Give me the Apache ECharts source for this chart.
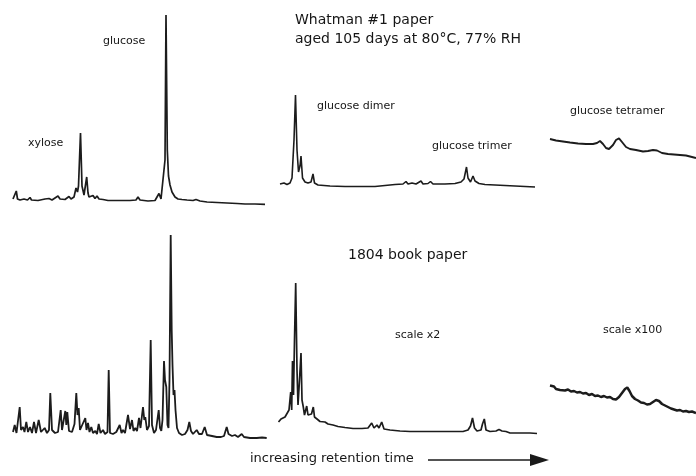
<!DOCTYPE html>
<html>
<head>
<meta charset="utf-8">
<script src="https://cdn.jsdelivr.net/npm/echarts@6/dist/echarts.min.js"></script>
<style>html,body{margin:0;padding:0;background:#fff}#c{width:696px;height:476px}</style>
</head>
<body>
<div id="c"></div>
<script>
// Panel 1: Whatman #1, early region (xylose, glucose)
var p1Time = [0.0,0.2,0.33,0.45,0.7,1.1,1.3,1.45,1.7,1.85,2.5,3.2,3.4,3.6,3.9,4.5,4.7,4.9,5.2,5.6,5.8,6.1,6.3,6.45,6.55,6.75,6.9,7.1,7.25,7.37,7.5,7.6,7.8,8.0,8.2,8.4,8.6,8.77,9.0,9.5,10.7,11.7,12.3,12.5,12.7,13.5,14.2,14.4,14.6,14.8,15.0,15.2,15.3,15.43,15.55,15.7,15.9,16.2,16.5,16.9,17.4,18.0,18.3,18.7,19.4,20.4,21.4,22.4,23.2,24.2,25.2];
var p1Signal = [6,7,14,6,5,6,8,5,7.5,5,4.5,6,5,6.5,5,9,6,7.5,5.5,8.5,6,8,17,13,19,72,19,10,11,28,12,8,7,9.5,6.5,9,6,7.5,5.5,4.5,4.5,4.5,5,8,5,4,4.5,8,11.5,6,6,45,190,55,29,20,13,8,6,5.5,5,4.5,5.5,4,3,2.5,2,1.5,1,1,0.7];
// Panel 2: Whatman #1, dimer / trimer region
var p2Time = [27.0,27.4,27.7,28.0,28.2,28.4,28.55,28.7,28.85,29.0,29.1,29.25,29.5,29.8,30.1,30.3,30.45,30.8,32.0,33.5,35.0,36.5,37.5,38.5,39.3,39.6,39.8,40.2,40.6,41.1,41.3,41.8,42.05,42.3,43.5,44.5,45.1,45.4,45.65,45.8,46.05,46.3,46.5,46.7,46.9,47.5,48.5,49.5,50.5,51.5,52.5];
var p2Signal = [11,12,10.5,12,17,55,100,45,23,29,39,17,13,12,13,21,12,10,9,8.5,8.5,8.5,9.5,10.5,11,13.5,11,12,11,14,11,11.5,13.5,11,11,11.5,13,16,28,17,13,19,14,16,11.5,10.5,10,9.5,9,8.5,8];
// Panel 3: Whatman #1, tetramer region
var p3Time = [55.2,55.8,56.5,57.2,58.0,58.8,59.5,59.9,60.2,60.5,60.8,61.1,61.5,61.8,62.1,62.4,62.8,63.2,63.8,64.5,65.0,65.5,65.9,66.4,67.0,67.6,68.2,68.8,69.2,69.8];
var p3Signal = [31,29.5,28.5,27.5,26.5,26,26,27,29,26,22,21,25,30,31.7,28,23,21,20,18.5,19,20,19.5,17,16,15.5,15,14.5,13.5,12];
// Panel 4: 1804 book paper, early region
var p4Time = [0.0,0.17,0.35,0.55,0.67,0.8,1.0,1.15,1.33,1.5,1.7,1.9,2.1,2.3,2.57,2.8,3.17,3.4,3.6,3.73,3.9,4.2,4.5,4.77,4.9,5.05,5.23,5.33,5.43,5.6,5.9,6.15,6.33,6.45,6.57,6.7,6.9,7.23,7.35,7.5,7.65,7.83,8.0,8.23,8.4,8.57,8.75,9.0,9.2,9.45,9.57,9.7,10.0,10.33,10.5,10.67,10.85,11.0,11.2,11.5,11.7,11.9,12.05,12.23,12.4,12.6,12.75,13.0,13.13,13.23,13.4,13.6,13.77,13.9,14.1,14.3,14.57,14.7,14.83,14.95,15.1,15.2,15.33,15.45,15.55,15.65,15.77,15.87,15.95,16.05,16.15,16.25,16.4,16.6,16.9,17.2,17.45,17.63,17.8,18.0,18.37,18.6,18.9,19.17,19.4,19.9,20.37,20.8,21.1,21.37,21.55,21.9,22.2,22.5,22.87,23.1,23.7,24.37,24.9,25.37];
var p4Signal = [13,20,12,14,38,15,18,13,23,13,18,12,23,12,25,13,17,12,15,52,15,12,13,35,15,17,34,20,33,14,13,21,52,30,37,15,13,27,15,22,13,18,12,14,11,21,12,15,11,13,75,12,11,13,11,20,12,15,12,30,16,25,14,17,14,27,17,38,25,28,15,19,105,20,12,15,35,17,14,25,84,65,58,20,17,65,210,115,80,50,55,35,17,12,10,11,15,23,14,11,15,11,11,18,10,9,8,8,9,18,11,9,10,8,11,8,7,7,7.5,7];
// Panel 5: 1804 book paper, dimer / trimer region (scale x2)
var p5Time = [27.05,27.3,27.5,27.7,27.9,28.1,28.27,28.37,28.45,28.55,28.65,28.77,28.9,29.0,29.15,29.3,29.4,29.53,29.65,29.87,30.0,30.2,30.35,30.53,30.65,30.9,31.2,31.7,32.0,32.5,33.0,33.7,34.5,35.4,36.0,36.37,36.6,36.9,37.1,37.37,37.6,38.2,39.2,40.2,41.2,42.7,44.2,45.5,46.0,46.25,46.45,46.65,46.9,47.3,47.45,47.63,47.8,48.2,48.8,49.1,49.4,49.8,50.2,51.2,52.2,52.9];
var p5Signal = [23,26,24,28,26,35,53,35,84,50,105,162,75,40,65,92,45,38,30,39,30,28,31,38,28,26,23.5,23,21,20,18.5,17.5,16.5,16.5,17,22,17,20,17,23,16,15,14,13.5,13.5,13.5,13.5,13.5,15,19,27,17,14,15,21,26,15,13.5,14,15.5,14,13.5,12,12,12,11.5];
// Panel 6: 1804 book paper, tetramer region (scale x100)
var p6Time = [55.2,55.4,55.6,55.8,56.0,56.2,56.4,56.7,57.0,57.3,57.6,57.9,58.2,58.5,58.8,59.1,59.4,59.7,60.0,60.3,60.6,60.9,61.2,61.5,61.8,62.1,62.4,62.7,62.93,63.15,63.4,63.7,64.0,64.3,64.6,64.9,65.2,65.5,65.8,66.1,66.4,66.7,67.0,67.3,67.6,67.9,68.2,68.5,68.8,69.1,69.4,69.8];
var p6Signal = [44.5,42.5,43.5,41,42,40,41,39.5,40.5,38.5,39,37.5,38,36.5,37,35,36,34,34.5,33,34,32.5,33,31,30.5,33,37,41,42.5,39,34,31,29.5,27.5,27,25.5,26,28,30,29,26,24.5,23,21.5,20.5,19.5,20,18.5,19,18,18.5,17];

var panelTimes = [p1Time, p2Time, p3Time, p4Time, p5Time, p6Time];
var panelSignals = [p1Signal, p2Signal, p3Signal, p4Signal, p5Signal, p6Signal];
var panelXRange = [[0,25.2],[27,52.8],[55,69.8],[0,25.4],[27,53],[55,69.8]];
var panelYMax = [190,110,70,215,170,70];

var grids = [
  {left:13, top:15, width:252, height:190},
  {left:280, top:85, width:258, height:110},
  {left:548, top:100, width:148, height:70},
  {left:13, top:230, width:254, height:215},
  {left:278, top:275, width:260, height:170},
  {left:548, top:360, width:148, height:70}
];
var lineWidths = [1.7,1.6,1.9,1.8,1.7,2.5];

var xAxes = [], yAxes = [], series = [];
for (var i = 0; i < 6; i++) {
  xAxes.push({type:'value', gridIndex:i, min:panelXRange[i][0], max:panelXRange[i][1], show:false});
  yAxes.push({type:'value', gridIndex:i, min:0, max:panelYMax[i], show:false});
  var d = panelTimes[i].map(function(t, k){ return [t, panelSignals[i][k]]; });
  series.push({type:'line', xAxisIndex:i, yAxisIndex:i, data:d, showSymbol:false, clip:false,
    lineStyle:{color:'#1c1c1c', width:lineWidths[i]}, animation:false});
}

var F = '"DejaVu Sans", Verdana, sans-serif';
function txt(x, y, s, size) {
  return {type:'text', left:x, top:y, style:{text:s, font:size+'px '+F, fill:'#161616'}};
}
var chart = echarts.init(document.getElementById('c'), null, {renderer:'canvas'});
chart.setOption({
  backgroundColor:'#ffffff',
  animation:false,
  grid:grids,
  xAxis:xAxes,
  yAxis:yAxes,
  series:series,
  graphic:[
    txt(103, 36, 'glucose', 11),
    txt(28, 138, 'xylose', 11),
    txt(295, 13, 'Whatman #1 paper', 14),
    txt(295, 32, 'aged 105 days at 80°C, 77% RH', 14),
    txt(317, 101, 'glucose dimer', 11),
    txt(432, 141, 'glucose trimer', 11),
    txt(570, 106, 'glucose tetramer', 11),
    txt(348, 248, '1804 book paper', 14),
    txt(395, 330, 'scale x2', 11),
    txt(603, 325, 'scale x100', 11),
    txt(250, 452, 'increasing retention time', 13),
    {type:'line', shape:{x1:428, y1:460, x2:532, y2:460}, style:{stroke:'#1a1a1a', lineWidth:1.6}},
    {type:'polygon', shape:{points:[[530,454],[549,460],[530,466]]}, style:{fill:'#1a1a1a'}}
  ]
});
</script>
</body>
</html>
